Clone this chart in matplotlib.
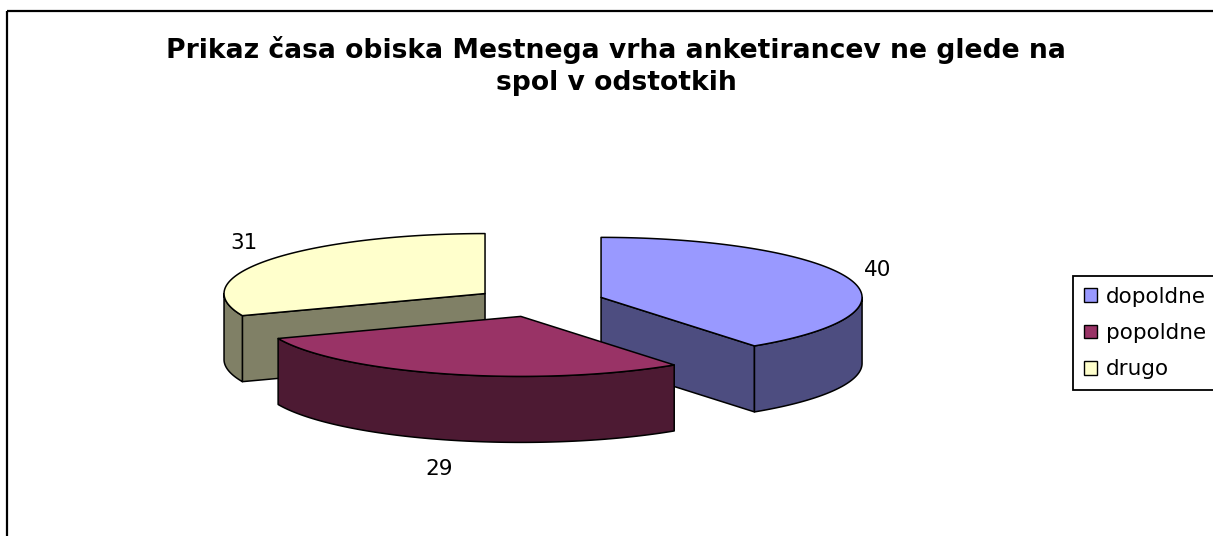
import numpy as np
import matplotlib
matplotlib.use("Agg")
import matplotlib.pyplot as plt
from matplotlib.patches import Polygon, Rectangle, Patch

plt.rcParams['font.family'] = ['DejaVu Sans']

# data
labels = ["dopoldne", "popoldne", "drugo"]
values = [40, 29, 31]
top_colors = ["#9999FF", "#993366", "#FFFFCC"]
side_colors = ["#4D4D80", "#4D1A33", "#808066"]
title_lines = ["Prikaz časa obiska Mestnega vrha anketirancev ne glede na",
               "spol v odstotkih"]

# 3d pie geometry (pixels)
cx, cy = 539, 302
rx, ry = 261, 60
thick = 66
explode = 0.25
lab_gap = 30

fig = plt.figure(figsize=(12.13, 5.36), dpi=100)
ax = fig.add_axes([0, 0, 1, 1])
ax.set_xlim(0, 1213)
ax.set_ylim(536, 0)
ax.axis("off")


def pt(c, th, dy=0):
    t = np.radians(th)
    return c[0] + rx * np.sin(t), c[1] - ry * np.cos(t) + dy


def arc(c, a, b, dy=0):
    th = np.linspace(a, b, max(int(abs(b - a)) * 2, 2))
    t = np.radians(th)
    return np.column_stack([c[0] + rx * np.sin(t), c[1] - ry * np.cos(t) + dy])


total = sum(values)
starts = np.concatenate([[0], np.cumsum(values)[:-1]]) / total * 360
ends = np.cumsum(values) / total * 360
mids = (starts + ends) / 2

order = np.argsort(-np.cos(np.radians(mids)))
kw = dict(edgecolor="black", linewidth=1.1, joinstyle="round")
for i in order:
    a, b, m = starts[i], ends[i], mids[i]
    c = pt((cx, cy), m)
    c = (cx + explode * (c[0] - cx), cy + explode * (c[1] - cy))
    # radial walls
    for edge, face in ((a, a - 90), (b, b + 90)):
        if -np.cos(np.radians(face)) > 1e-6:
            p = pt(c, edge)
            ax.add_patch(Polygon([c, p, (p[0], p[1] + thick), (c[0], c[1] + thick)],
                                 facecolor=side_colors[i], **kw))
    # curved outer wall (front half only)
    lo, hi = max(a, 90), min(b, 270)
    if hi > lo:
        upper = arc(c, lo, hi)
        lower = arc(c, hi, lo, thick)
        ax.add_patch(Polygon(np.vstack([upper, lower]), facecolor=side_colors[i], **kw))
    # top
    ax.add_patch(Polygon(np.vstack([[c], arc(c, a, b)]), facecolor=top_colors[i], **kw))
    # value label
    rp = pt(c, m, thick if np.cos(np.radians(m)) < 0 else 0)
    t = np.radians(m)
    ax.text(rp[0] + lab_gap * np.sin(t), rp[1] - lab_gap * np.cos(t), str(values[i]),
            fontsize=15.5, ha="center", va="center")

for k, line in enumerate(title_lines):
    ax.text(616, 58 + 32 * k, line, fontsize=19.2, fontweight="bold", ha="center",
            va="baseline")

ax.add_patch(Rectangle((7, 11), 1300, 600, fill=False, edgecolor="black", linewidth=1.6))

handles = [Patch(facecolor=top_colors[i], edgecolor="black", linewidth=1.0) for i in range(3)]
ax.legend(handles, labels, loc="upper left", bbox_to_anchor=(1073 / 1213, 1 - 276 / 536),
          fontsize=15.5, frameon=True, fancybox=False, edgecolor="black", framealpha=1,
          handlelength=0.6, handleheight=0.6, handletextpad=0.45, labelspacing=0.76,
          borderpad=0.5, borderaxespad=0).get_frame().set_linewidth(1.3)

fig.savefig("out.png", dpi=100)
